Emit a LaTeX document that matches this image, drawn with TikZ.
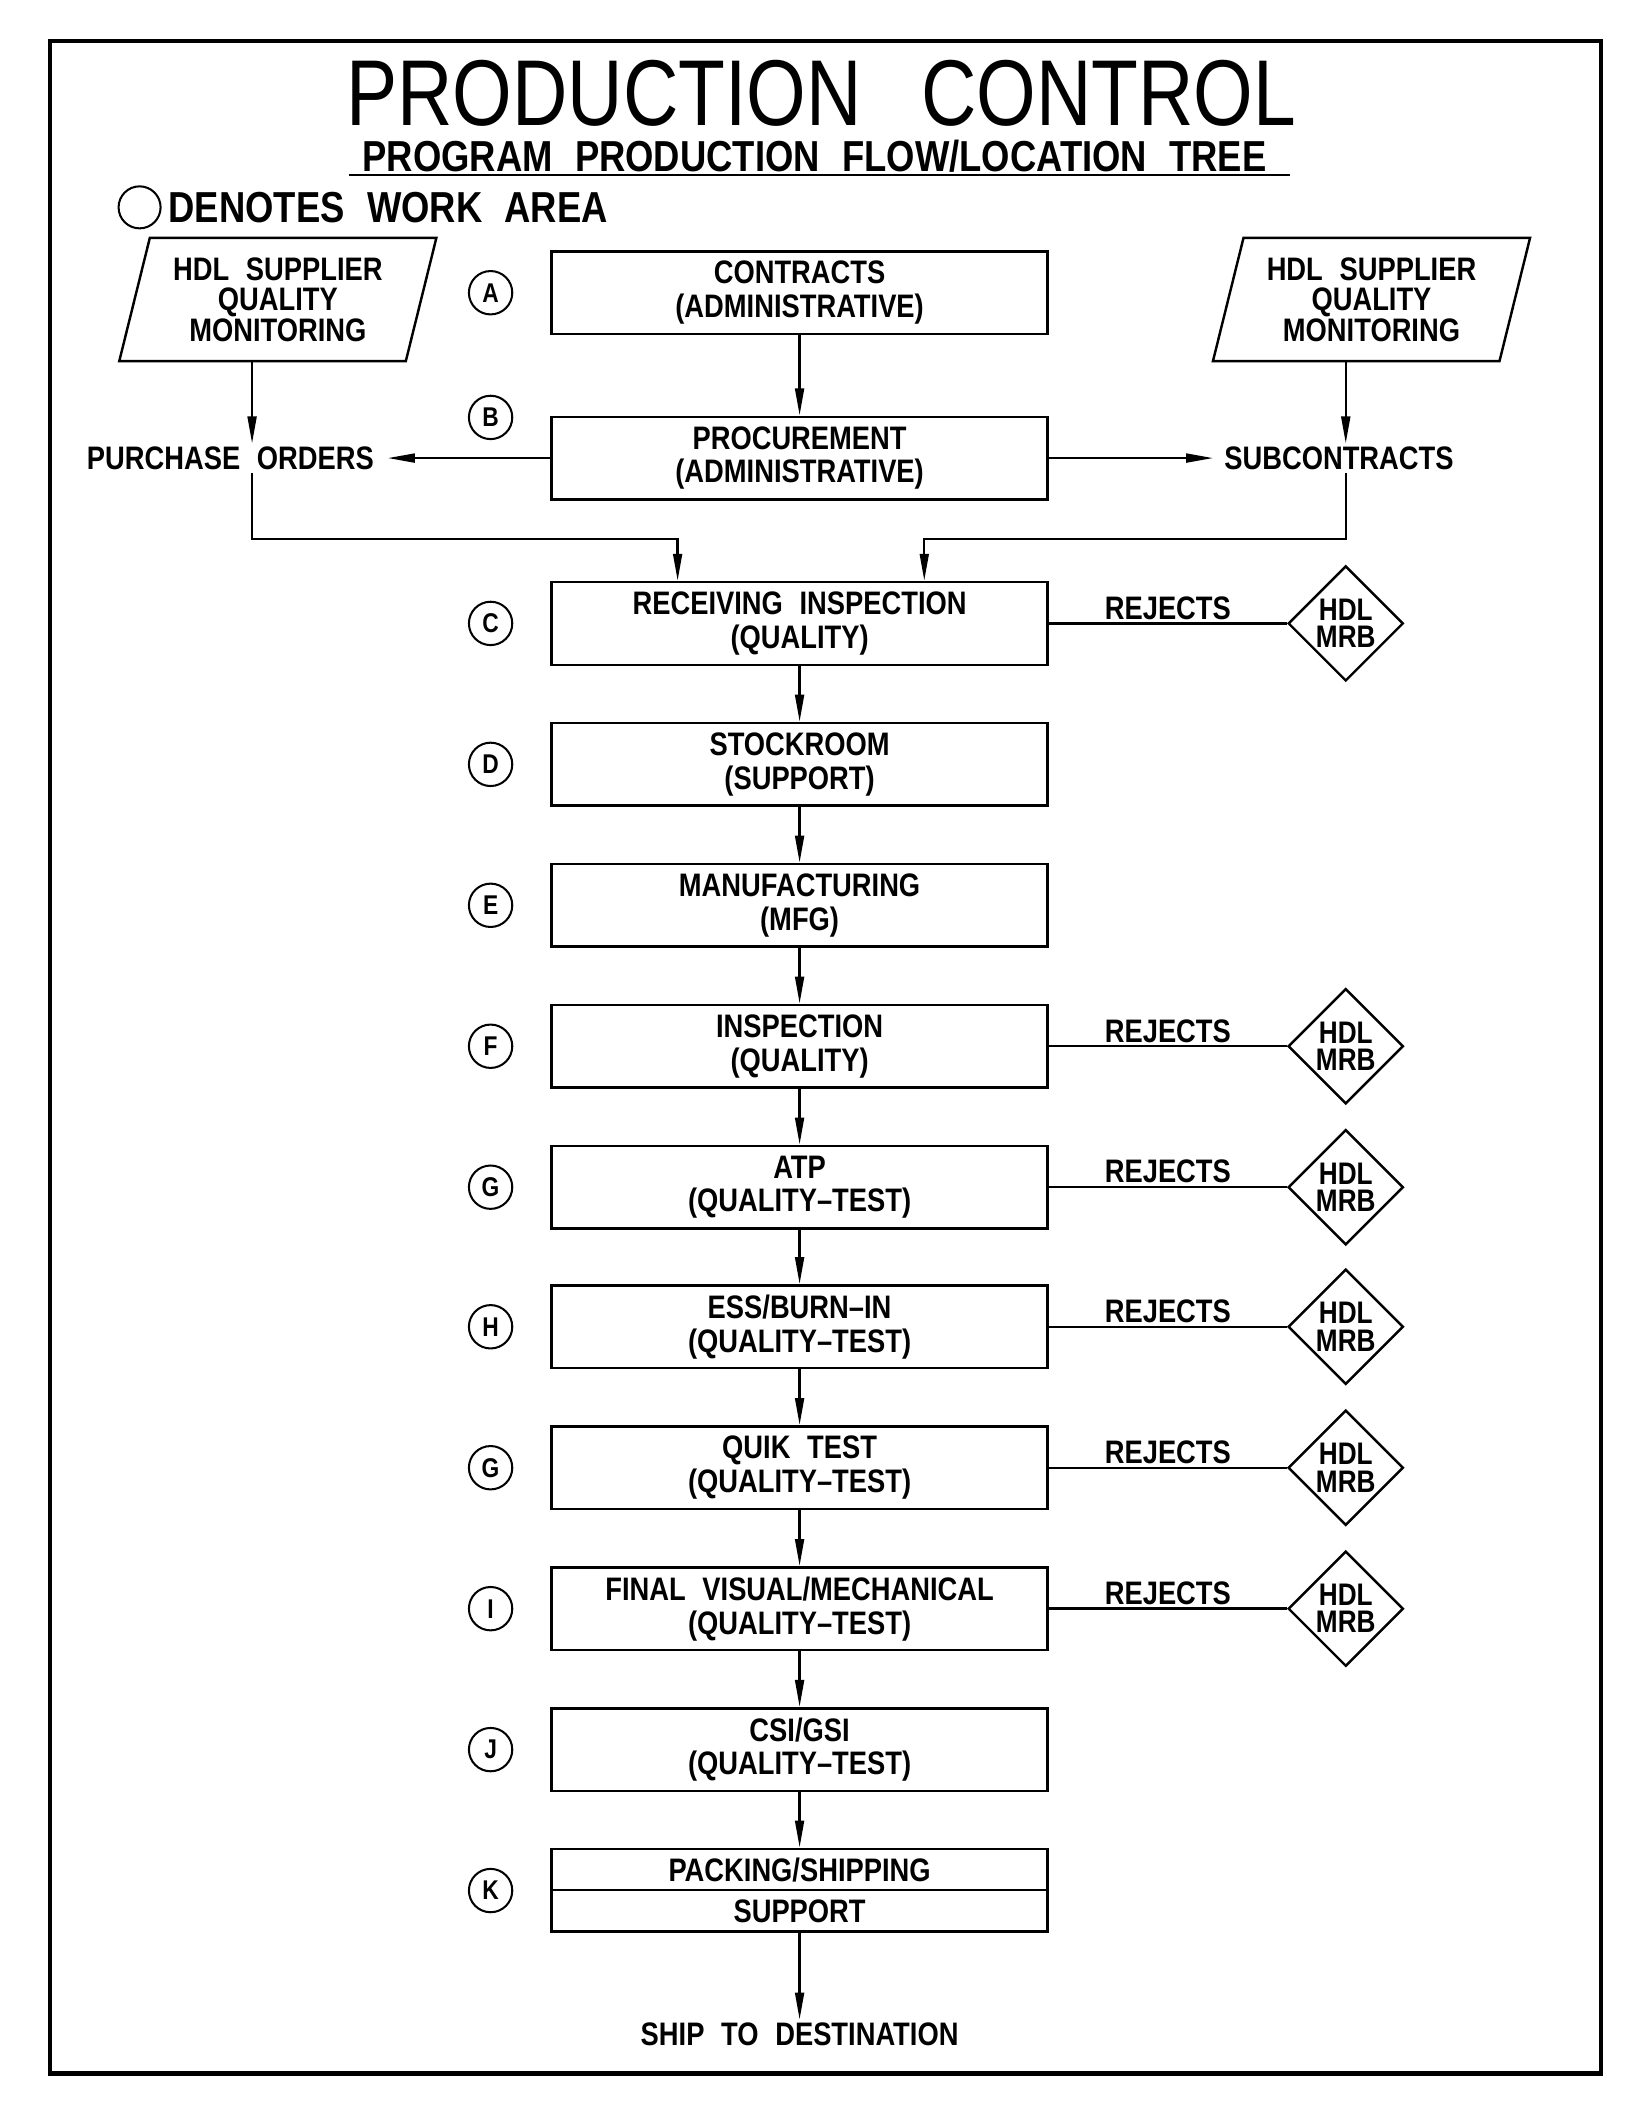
\documentclass[tikz,border=0pt]{standalone}
\usepackage{fontspec}
\setmainfont{Liberation Sans}[FakeStretch=0.84,WordSpace=2.2]
\newfontfamily\titlefont{Liberation Sans}[FakeStretch=0.82,WordSpace=2.8]
\usetikzlibrary{arrows.meta,shapes.geometric,positioning}

\begin{document}
\begin{tikzpicture}[x=1pt,y=-1pt,%
	every node/.style={font=\bfseries\fontsize{24}{25}\selectfont, align=center, inner sep=2pt},
	areabox/.style={draw, line width=1.8pt, minimum width=366pt, minimum height=61pt},
	halfbox/.style={areabox, minimum height=30.5pt},
	supplier/.style={draw, line width=1.8pt, trapezium, trapezium left angle=70, trapezium right angle=110,
		trapezium stretches body, minimum width=234pt, minimum height=91pt, inner sep=0pt,
		font=\bfseries\fontsize{24}{22.5}\selectfont},
	mrb/.style={draw, line width=1.8pt, diamond, minimum width=85pt, minimum height=85pt, inner sep=0pt,
		font=\bfseries\fontsize{23}{20}\selectfont},
	area/.style={draw, line width=1.5pt, circle, minimum size=32pt, inner sep=0pt, font=\bfseries\fontsize{20}{20}\selectfont},
	flow/.style={line width=1.8pt, -{Triangle[length=20pt,width=6.5pt]}}]
	\useasboundingbox (0,0) rectangle (1218,1568);
	\draw[line width=3pt] (37,30) rectangle (1181,1530);

	\node[font=\titlefont\fontsize{69}{69}\selectfont] (title) at (606,69) {PRODUCTION CONTROL};
	\node[font=\bfseries\fontsize{32}{32}\selectfont] (subtitle) at (601,115) {PROGRAM PRODUCTION FLOW/LOCATION TREE};
	\draw[line width=1.5pt] ([xshift=-8pt]subtitle.south west) -- ([xshift=15pt]subtitle.south east);
	\node[area, minimum size=31pt] (key) at (103,153) {};
	\node[font=\bfseries\fontsize{32}{32}\selectfont, right=3pt of key] (keytext) {DENOTES WORK AREA};

	\node[supplier] (hdlL) at (205,221) {HDL SUPPLIER\\QUALITY\\MONITORING};
	\node[supplier] (hdlR) at (1012,221) {HDL SUPPLIER\\QUALITY\\MONITORING};

	\foreach \n/\y/\t in {contracts/216/{CONTRACTS\\(ADMINISTRATIVE)}, procure/338/{PROCUREMENT\\(ADMINISTRATIVE)},
		receiving/460/{RECEIVING INSPECTION\\(QUALITY)}, stock/564/{STOCKROOM\\(SUPPORT)}, mfg/668/{MANUFACTURING\\(MFG)},
		inspect/772/{INSPECTION\\(QUALITY)}, atp/876/{ATP\\(QUALITY--TEST)}, ess/979/{ESS/BURN--IN\\(QUALITY--TEST)},
		quik/1083/{QUIK TEST\\(QUALITY--TEST)}, final/1187/{FINAL VISUAL/MECHANICAL\\(QUALITY--TEST)},
		csi/1291/{CSI/GSI\\(QUALITY--TEST)}}
		\node[areabox] (\n) at (590,\y) {\t};
	\node[halfbox] (pack) at (590,1379.5) {PACKING/SHIPPING};
	\node[halfbox, below=-1.8pt of pack] (support) {SUPPORT};
	\node (ship) at (590,1501) {SHIP TO DESTINATION};

	\foreach \l/\y [count=\i] in {A/216,B/308,C/460,D/564,E/668,F/772,G/876,H/979,G/1083,I/1187,J/1291,K/1395}
		\node[area] (work\i) at (362,\y) {\l};

	\foreach \a/\b in {contracts/procure,receiving/stock,stock/mfg,mfg/inspect,inspect/atp,atp/ess,ess/quik,
		quik/final,final/csi,csi/pack,support/ship}
		\draw[flow] (\a) -- (\b);

	% purchase orders and subcontracts
	\coordinate (lx) at (186,0);
	\coordinate (rx) at (993,0);
	\node (porders) at (170,338) {PURCHASE ORDERS};
	\node (subcon) at (988,338) {SUBCONTRACTS};
	\draw[flow] (hdlL.south -| lx) -- (porders.north -| lx);
	\draw[flow] (hdlR.south -| rx) -- (subcon.north -| rx);
	\draw[flow, shorten >=8pt] (procure.west) -- (porders.east);
	\draw[flow, shorten >=6pt] (procure.east) -- (subcon.west);
	\draw[flow] (porders.south -| lx) -- ++(0,49) -| ([xshift=-90pt]receiving.north);
	\draw[flow] (subcon.south -| rx) -- ++(0,49) -| ([xshift=92pt]receiving.north);

	\foreach \b in {receiving,inspect,atp,ess,quik,final} {
		\node[mrb] (\b-mrb) at (\b -| rx) {HDL\\MRB};
		\draw[line width=1.8pt] (\b.east) -- (\b-mrb.west) node[midway, above] {REJECTS};
	}
\end{tikzpicture}
\end{document}
